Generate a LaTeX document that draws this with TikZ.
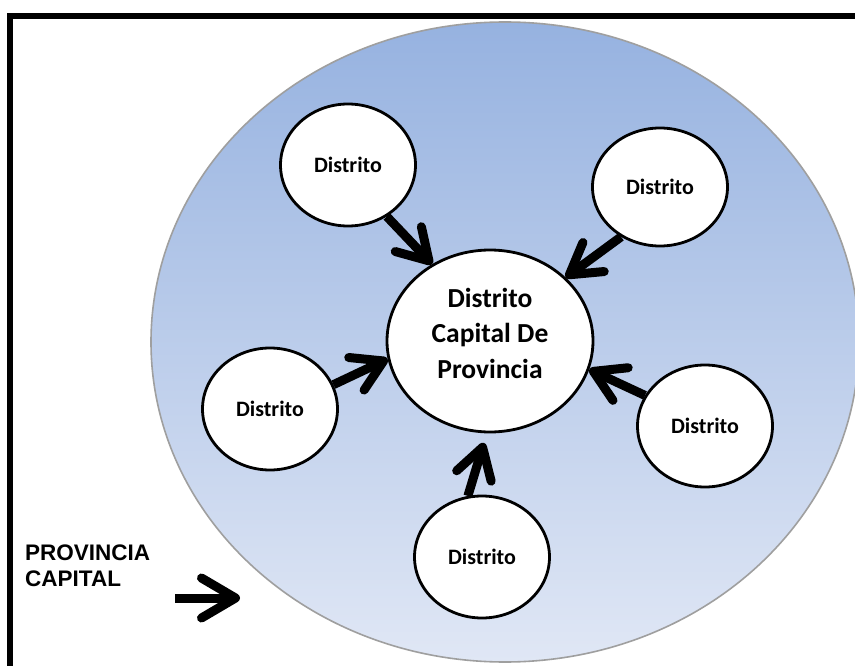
\documentclass[tikz,border=0pt]{standalone}
\usepackage{fontspec}
\setmainfont{Carlito}
\newfontfamily\arialfont{Liberation Sans}
\usepackage{tikz}
\usetikzlibrary{shapes.geometric}
\usetikzlibrary{arrows.meta}
\definecolor{azularriba}{RGB}{150,178,224}
\definecolor{azulabajo}{RGB}{224,231,245}

\tikzset{
  distrito/.style={ellipse, draw=black, line width=2.8pt, fill=white, inner sep=0pt,
    minimum width=135pt, minimum height=122pt, font=\bfseries\fontsize{22}{26}\selectfont},
  flecha/.style={line width=9pt, -{Straight Barb[length=30pt,width=36pt,round]}},
}

\begin{document}
\begin{tikzpicture}[x=1pt,y=-1pt]
\clip (0,0) rectangle (855,666);
\fill [white] (0,0) rectangle (855,666);
% marco
\draw [line width=6pt] (9.7,16) rectangle (900,720);
% provincia
\shade [top color=azularriba, bottom color=azulabajo] (505,342) ellipse (354 and 320);
\draw [gray!75, line width=1.6pt] (505,342) ellipse (354 and 320);
% distritos
\node [ellipse, draw=black, line width=2.8pt, fill=white, inner sep=0pt,
  minimum width=206pt, minimum height=182pt, align=center, text depth=16pt,
  font=\bfseries\fontsize{27.5}{35.5}\selectfont] (capital) at (490,341) {Distrito\\Capital De\\Provincia};
\node [distrito] (d1) at (348,165) {Distrito};
\node [distrito, minimum height=118pt] (d2) at (660,187) {Distrito};
\node [distrito] (d3) at (270,409) {Distrito};
\node [distrito] (d4) at (482,557) {Distrito};
\node [distrito] (d5) at (705,426) {Distrito};
% flechas
\draw [flecha] (d1.307) -- (capital.127);
\draw [flecha] (d2.232) -- (capital.40);
\draw [flecha] (d3.21) -- (capital.190);
\draw [flecha, shorten >=10pt] (d4.103) -- (capital.268);
\draw [flecha] (d5.153) -- (capital.344);
% etiqueta
\node [anchor=north west, inner sep=0pt, align=left,
  font=\arialfont\bfseries\fontsize{22.5}{26}\selectfont] (etiqueta) at (25,545) {PROVINCIA\\CAPITAL};
\coordinate (ini) at (175,598);
\coordinate (fin) at (240,598);
\draw [line width=9pt, -{Straight Barb[length=34pt,width=40pt,round]}] (ini) -- (fin);
\end{tikzpicture}
\end{document}
